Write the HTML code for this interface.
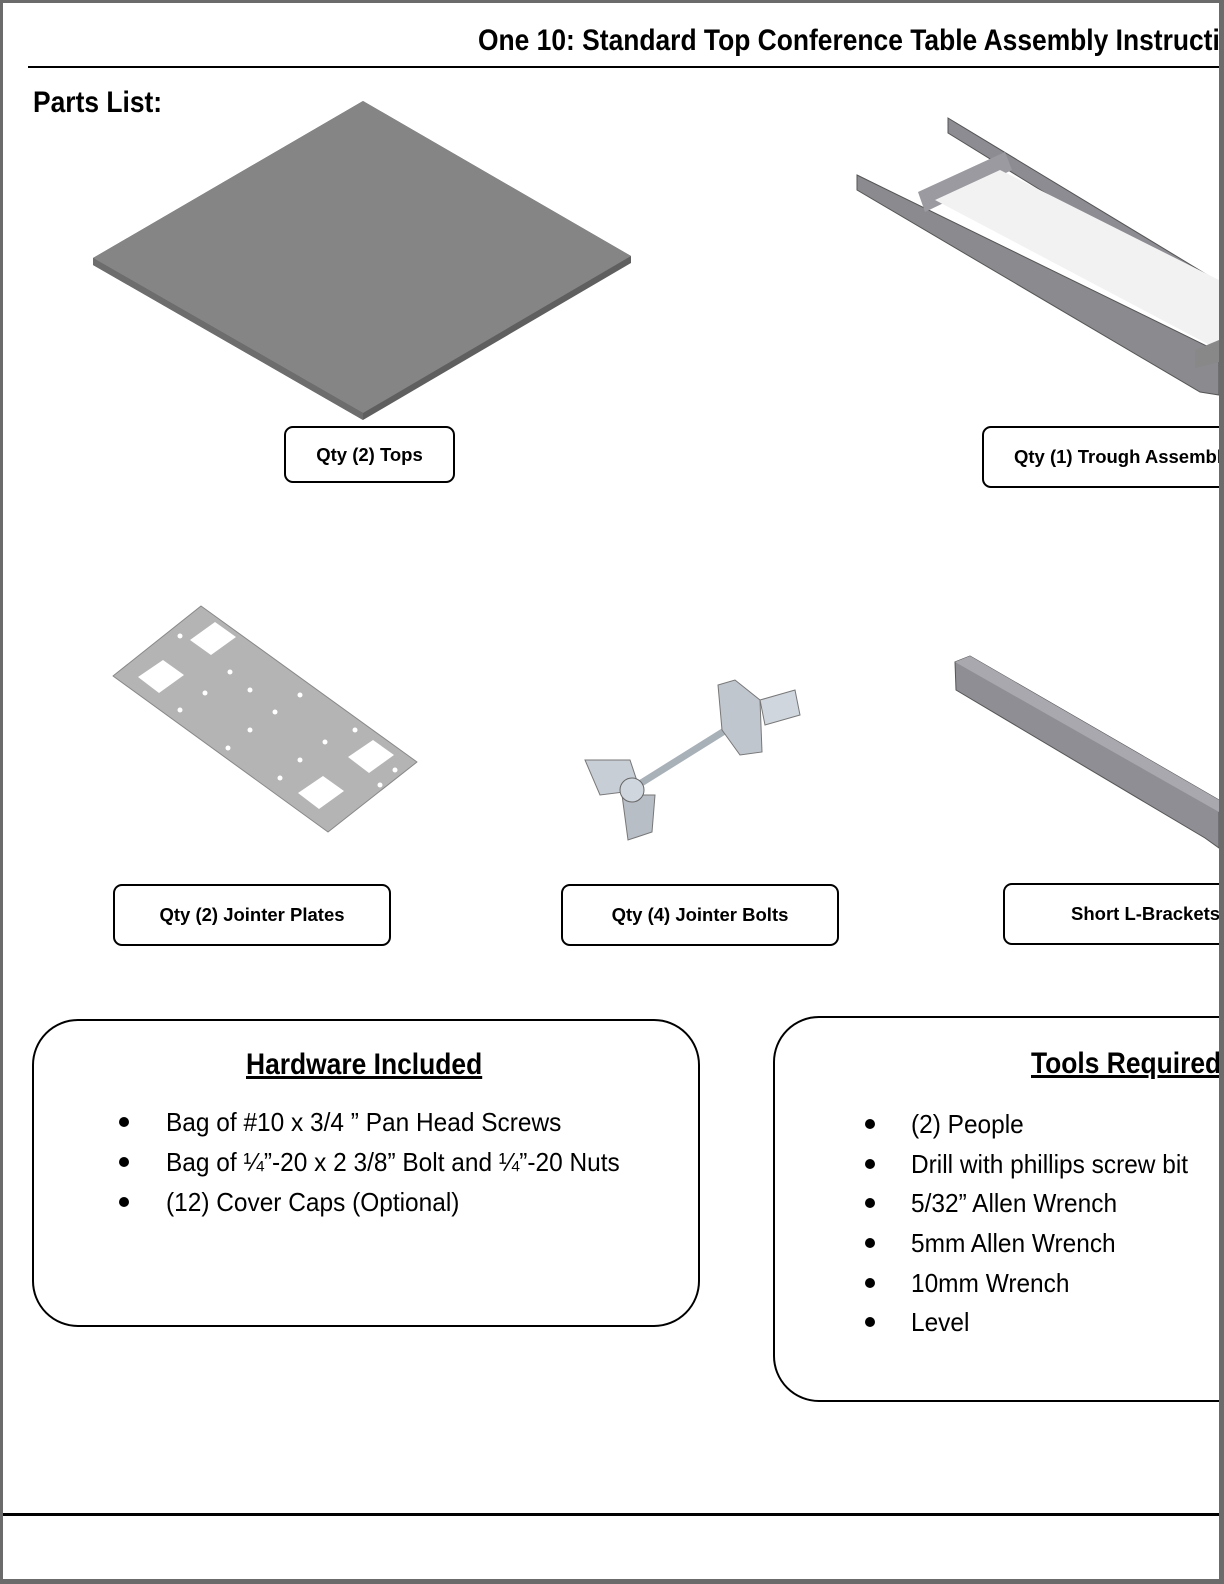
<!DOCTYPE html>
<html><head><meta charset="utf-8"><style>
html,body{margin:0;padding:0;}
body{width:1224px;height:1584px;position:relative;overflow:hidden;background:#fff;font-family:"Liberation Sans",sans-serif;}
.a{position:absolute;}
.nar{font-weight:bold;transform:scaleX(0.88);transform-origin:0 0;white-space:nowrap;}
.lbl{position:absolute;border:2px solid #000;border-radius:9px;box-sizing:border-box;font-weight:bold;font-size:18.5px;display:flex;align-items:center;justify-content:center;white-space:nowrap;background:#fff;}
.box{position:absolute;border:2px solid #000;border-radius:46px;box-sizing:border-box;}
.li{position:absolute;font-size:26px;white-space:nowrap;transform:scaleX(0.94);transform-origin:0 0;}
.dot{position:absolute;width:10px;height:10px;border-radius:50%;background:#000;}
</style></head><body>
<div class="a" style="left:0;top:0;width:3px;height:1584px;background:#6b6b6b"></div>
<div class="a" style="left:0;top:0;width:1224px;height:3px;background:#6b6b6b"></div>
<div class="a" style="left:0;top:1579px;width:1224px;height:5px;background:#6b6b6b"></div>
<div class="a" style="left:478px;top:0;width:741px;height:66px;overflow:hidden;">
  <div class="nar" style="position:absolute;left:0;top:24px;font-size:30px;">One 10: Standard Top Conference Table Assembly Instructions</div>
</div>
<div class="a" style="left:28px;top:66px;width:1191px;height:2px;background:#000"></div>
<div class="nar a" style="left:33px;top:86px;font-size:30px;">Parts List:</div>

<svg class="a" style="left:0;top:0" width="1224" height="1584">
  <polygon points="93,258 363,101 631,256 631,263 363,420 93,265" fill="#5f5f5f"/>
  <polygon points="93,258 363,101 631,256 363,413" fill="#858585"/>
  <polygon points="93,258 363,413 363,420 93,265" fill="#6d6d6d"/>
  <polygon points="857,175 1219,352 1219,395 1200,392 857,190" fill="#8a8a8f" stroke="#555" stroke-width="1"/>
  <polygon points="948,118 1219,282 1219,300 948,133" fill="#8c8c92" stroke="#555" stroke-width="1"/>
  <polygon points="918,192 1005,152 1012,170 925,212" fill="#9a9aa0"/>
  <polygon points="935,200 1000,170 1219,280 1219,350" fill="#f2f2f2"/>
  <polygon points="1195,350 1219,340 1219,362 1195,368" fill="#888"/>
  <polygon points="201,606 417,762 328,832 113,676" fill="#b4b4b4" stroke="#888" stroke-width="1" stroke-linejoin="round"/>
  <polygon points="190,640 215,622 236,637 211,655" fill="#fff"/>
  <polygon points="138,677 163,660 184,675 159,693" fill="#fff"/>
  <polygon points="348,757 373,740 394,755 369,773" fill="#fff"/>
  <polygon points="298,793 323,776 344,791 319,809" fill="#fff"/>
  <g fill="#fff">
   <circle cx="180" cy="636" r="2.5"/><circle cx="230" cy="672" r="2.5"/><circle cx="205" cy="693" r="2.5"/><circle cx="250" cy="690" r="2.5"/><circle cx="300" cy="695" r="2.5"/><circle cx="180" cy="710" r="2.5"/><circle cx="275" cy="712" r="2.5"/><circle cx="250" cy="730" r="2.5"/><circle cx="325" cy="742" r="2.5"/><circle cx="355" cy="730" r="2.5"/><circle cx="228" cy="748" r="2.5"/><circle cx="300" cy="760" r="2.5"/><circle cx="280" cy="778" r="2.5"/><circle cx="395" cy="770" r="2.5"/><circle cx="380" cy="785" r="2.5"/>
  </g>
  <line x1="630" y1="790" x2="750" y2="715" stroke="#a8b0b8" stroke-width="7"/>
  <polygon points="585,760 630,760 640,790 600,795" fill="#c8ced6" stroke="#777"/>
  <polygon points="622,795 655,795 652,832 628,840" fill="#b8bec6" stroke="#777"/>
  <circle cx="632" cy="790" r="12" fill="#d0d6de" stroke="#666"/>
  <polygon points="718,685 735,680 760,700 762,752 740,755 722,730" fill="#c0c6ce" stroke="#777"/>
  <polygon points="760,700 795,690 800,715 765,725" fill="#d0d6de" stroke="#777"/>
  <polygon points="955,662 970,656 1219,800 1219,848 1205,838 956,690" fill="#8e8e94" stroke="#555"/>
  <polygon points="955,662 970,656 1219,800 1219,812" fill="#a8a8ae"/>
</svg>

<div class="lbl" style="left:284px;top:426px;width:171px;height:57px;">Qty (2) Tops</div>
<div class="a" style="left:982px;top:426px;width:237px;height:62px;overflow:hidden;">
  <div class="lbl" style="left:0;top:0;width:320px;height:62px;justify-content:flex-start;padding-left:30px;">Qty (1) Trough Assembly</div>
</div>
<div class="lbl" style="left:113px;top:884px;width:278px;height:62px;">Qty (2) Jointer Plates</div>
<div class="lbl" style="left:561px;top:884px;width:278px;height:62px;">Qty (4) Jointer Bolts</div>
<div class="a" style="left:1003px;top:883px;width:216px;height:62px;overflow:hidden;">
  <div class="lbl" style="left:0;top:0;width:300px;height:62px;justify-content:flex-start;padding-left:66px;">Short L-Brackets</div>
</div>

<div class="box" style="left:32px;top:1019px;width:668px;height:308px;"></div>
<div class="nar a" style="left:246px;top:1048px;font-size:30px;text-decoration:underline;">Hardware Included</div>
<div class="dot" style="left:119px;top:1117px"></div><div class="li" style="left:166px;top:1107px">Bag of #10 x 3/4 ” Pan Head Screws</div>
<div class="dot" style="left:119px;top:1157px"></div><div class="li" style="left:166px;top:1147px">Bag of ¼”-20 x 2 3/8” Bolt and ¼”-20 Nuts</div>
<div class="dot" style="left:119px;top:1197px"></div><div class="li" style="left:166px;top:1187px">(12) Cover Caps (Optional)</div>

<div class="a" style="left:773px;top:1016px;width:446px;height:390px;overflow:hidden;">
  <div class="box" style="left:0;top:0;width:600px;height:386px;"></div>
  <div class="nar a" style="left:258px;top:31px;font-size:30px;text-decoration:underline;">Tools Required</div>
  <div class="dot" style="left:92px;top:103px"></div><div class="li" style="left:138px;top:93px">(2) People</div>
  <div class="dot" style="left:92px;top:143px"></div><div class="li" style="left:138px;top:133px">Drill with phillips screw bit</div>
  <div class="dot" style="left:92px;top:182px"></div><div class="li" style="left:138px;top:172px">5/32” Allen Wrench</div>
  <div class="dot" style="left:92px;top:222px"></div><div class="li" style="left:138px;top:212px">5mm Allen Wrench</div>
  <div class="dot" style="left:92px;top:262px"></div><div class="li" style="left:138px;top:252px">10mm Wrench</div>
  <div class="dot" style="left:92px;top:301px"></div><div class="li" style="left:138px;top:291px">Level</div>
</div>

<div class="a" style="left:3px;top:1513px;width:1216px;height:3px;background:#000"></div>
<div class="a" style="left:1219px;top:0;width:5px;height:1584px;background:#6b6b6b"></div>
</body></html>
